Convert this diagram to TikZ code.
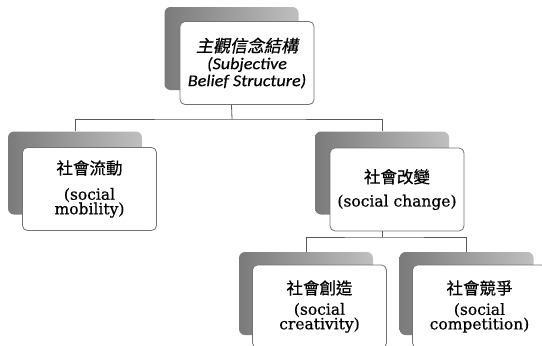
\documentclass[tikz,border=0pt]{standalone}
\usepackage{fontspec}
\setmainfont[FakeBold=0.6]{DejaVu Serif}
\newfontfamily\cjk[FakeBold=0.5]{Noto Sans CJK TC}
\newfontfamily\cjkit[FakeSlant=0.2,FakeBold=0.5]{Noto Sans CJK TC}
\newfontfamily\carlito[FakeStretch=1.1,FakeBold=0.4]{Carlito}

\begin{document}
\begin{tikzpicture}[x=1pt,y=-1pt,
	card node/.style={draw=black!55,line width=0.8pt,rounded corners=5pt,fill=white,
		minimum width=134pt,minimum height=83pt,align=center,inner sep=1pt,
		font=\fontsize{15.5}{14.5}\selectfont},
	back node/.style={rounded corners=6pt,left color=black!52,right color=black!25,
		minimum width=134pt,minimum height=83pt},
	link/.style={draw=black!65,line width=0.8pt}]
	\useasboundingbox (0,0) rectangle (542,346);
	\clip (0,0) rectangle (542,346);

	\node[back node] (root back) at (231.5,48.5) {};
	\node[card node,font=\carlito\itshape\fontsize{16.5}{17}\selectfont] (root) at (247,63)
		{{\cjkit\fontsize{17}{17}\selectfont 主觀信念結構}\\(Subjective\\Belief Structure)};

	\node[back node] (mobility back) at (75,173) {};
	\node[card node] (mobility) at (89.5,189)
		{{\cjk\fontsize{16.5}{14.5}\selectfont 社會流動}\\[11pt](social\\mobility)};

	\node[back node] (change back) at (382,173) {};
	\node[card node] (change) at (397,189.5)
		{{\cjk\fontsize{16.5}{14.5}\selectfont 社會改變}\\[9pt](social change)};

	\node[back node] (creativity back) at (306,293.5) {};
	\node[card node] (creativity) at (319.5,306.5)
		{{\cjk\fontsize{16.5}{14.5}\selectfont 社會創造}\\[6pt](social\\creativity)};

	\node[back node] (competition back) at (466.5,293.5) {};
	\node[card node] (competition) at (479.5,306.5)
		{{\cjk\fontsize{16.5}{14.5}\selectfont 社會競爭}\\[6pt](social\\competition)};

	% tree links
	\coordinate (fork1) at (232,119);
	\coordinate (fork2) at (382,237);
	\draw[link] (root back |- root.south) -- (fork1);
	\draw[link] (mobility back.north) |- (fork1) -| (change back.north);
	\draw[link] (change back |- change.south) -- (fork2);
	\draw[link] (creativity back.north) |- (fork2) -| (competition back.north);
\end{tikzpicture}
\end{document}
